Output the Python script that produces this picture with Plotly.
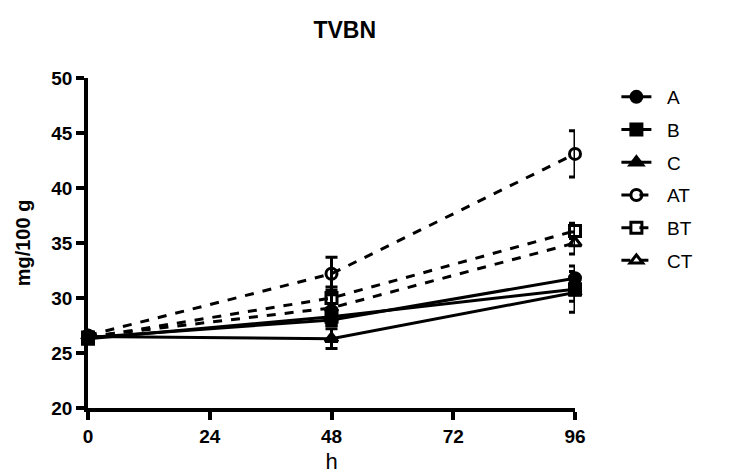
import plotly.graph_objects as go

hours = [0, 48, 96]
series_names = ["A", "B", "C", "AT", "BT", "CT"]
A = [26.4, 28.0, 31.8]
B = [26.3, 28.3, 30.8]
C = [26.5, 26.3, 30.5]
AT = [26.6, 32.2, 43.1]
BT = [26.4, 30.0, 36.1]
CT = [26.5, 29.1, 35.0]
A_err = [0.3, 0.5, 0.6]
B_err = [0.3, 0.8, 2.1]
C_err = [0.3, 0.9, 0.8]
AT_err = [0.3, 1.5, 2.1]
BT_err = [0.3, 1.0, 0.7]
CT_err = [0.3, 1.2, 1.0]
x_ticks = [0, 24, 48, 72, 96]
y_ticks = [20, 25, 30, 35, 40, 45, 50]

values = [A, B, C, AT, BT, CT]
errors = [A_err, B_err, C_err, AT_err, BT_err, CT_err]
symbols = ["circle", "square", "triangle-up", "circle-open", "square-open", "triangle-up-open"]
dashes = ["solid", "solid", "solid", "dash", "dash", "dash"]

FONT = "Liberation Sans, Arial"

fig = go.Figure()
for name, y, e, sym, d in zip(series_names, values, errors, symbols, dashes):
    fig.add_trace(go.Scatter(
        x=hours, y=y, name="\u00a0\u00a0" + name, mode="lines+markers",
        line=dict(color="black", width=3, dash=d),
        marker=dict(symbol=sym, size=11, color="black",
                    line=dict(color="black", width=3)),
        error_y=dict(type="data", array=e, visible=True, color="black",
                     thickness=3, width=6),
        cliponaxis=False, legendgroup=name,
    ))

# page body adds an 8px margin; figure sized to fit the 740x475 window
fig.update_layout(
    width=732, height=467,
    paper_bgcolor="white", plot_bgcolor="white",
    margin=dict(l=80, r=165, t=70, b=67),
    title=dict(text="<b>TVBN</b>", x=0.46, xanchor="center", y=0.953, yanchor="middle",
               font=dict(family=FONT, size=23, color="black")),
    font=dict(family=FONT, color="black"),
    legend=dict(x=1.085, y=1.0, xanchor="left", yanchor="top",
                font=dict(size=19, color="black"), tracegroupgap=5,
                itemwidth=30, bgcolor="rgba(0,0,0,0)"),
    showlegend=True,
)
fig.update_xaxes(
    range=[0, 96], tickvals=x_ticks, ticktext=[f"<b>{v}</b>" for v in x_ticks],
    showgrid=False, zeroline=False, automargin=False,
    showline=True, linecolor="black", linewidth=3.5,
    ticks="outside", ticklen=8, tickwidth=3.5, tickcolor="black",
    tickfont=dict(size=19, family=FONT),
    title=dict(text="h", font=dict(size=22), standoff=9),
)
fig.update_yaxes(
    range=[20, 50], tickvals=y_ticks, ticktext=[f"<b>{v}</b>" for v in y_ticks],
    showgrid=False, zeroline=False, automargin=False,
    showline=True, linecolor="black", linewidth=3.5,
    ticks="outside", ticklen=8, tickwidth=3.5, tickcolor="black",
    tickfont=dict(size=19, family=FONT),
    title=dict(text="<b>mg/100 g</b>", font=dict(size=20), standoff=16),
)

fig.write_html("out.html")
